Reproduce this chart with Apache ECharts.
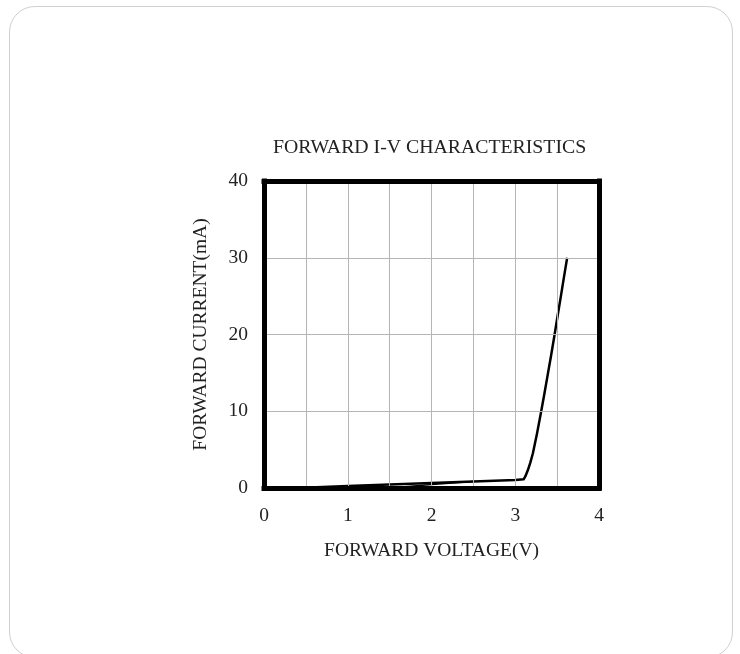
<!DOCTYPE html>
<html>
<head>
<meta charset="utf-8">
<script src="https://cdn.jsdelivr.net/npm/echarts@6/dist/echarts.min.js"></script>
<style>
html,body{margin:0;padding:0;background:#fff;width:740px;height:654px;overflow:hidden;}
#card{position:absolute;left:9px;top:6px;width:724px;height:652px;border:1.5px solid #d0d0d0;border-radius:26px;box-sizing:border-box;}
#chart{position:absolute;left:0;top:0;width:740px;height:654px;}
</style>
</head>
<body>
<div id="card"></div>
<div id="chart"></div>
<script>
// Forward voltage (V) / forward current (mA)
const voltage = [0.40, 1.00, 1.50, 2.00, 2.50, 3.00, 3.10, 3.12, 3.15, 3.18, 3.21, 3.26, 3.31, 3.35, 3.39, 3.43, 3.47, 3.51, 3.545, 3.585, 3.62];
const current = [0.00, 0.25, 0.45, 0.65, 0.85, 1.05, 1.13, 1.50, 2.30, 3.30, 4.50, 7.10, 10.0, 12.4, 14.9, 17.4, 20.0, 22.7, 25.0, 27.7, 30.0];
// faint second trace near the bottom
const voltage2 = [1.50, 2.00, 2.50];
const current2 = [0.00, 0.45, 0.85];
const yTicks = [0, 10, 20, 30, 40];
const xTicks = [0, 1, 2, 3, 4];

const serif = '"Liberation Serif", "DejaVu Serif", serif';
const txt = {fontFamily: serif, fontSize: 19.5, color: '#222'};
const frame = {show: true, onZero: false, lineStyle: {color: '#000', width: 5, cap: 'square'}};
const chart = echarts.init(document.getElementById('chart'));
chart.setOption({
  backgroundColor: 'transparent',
  animation: false,
  title: {
    text: 'FORWARD I-V CHARACTERISTICS',
    left: 268, top: 133,
    textStyle: {fontFamily: serif, fontWeight: 'normal', fontSize: 19.8, color: '#222'}
  },
  grid: {left: 264, right: 141, top: 181, bottom: 166},
  xAxis: [{
    type: 'value', min: xTicks[0], max: xTicks[xTicks.length - 1], interval: 1,
    name: 'FORWARD VOLTAGE(V)', nameLocation: 'middle', nameGap: 53,
    nameTextStyle: txt,
    axisLine: frame, axisTick: {show: false},
    axisLabel: Object.assign({margin: 18}, txt),
    splitLine: {show: true, lineStyle: {color: '#b5b5b5', width: 1}},
    minorTick: {show: false, splitNumber: 2},
    minorSplitLine: {show: true, lineStyle: {color: '#b5b5b5', width: 1}},
    z: 5
  }, {
    type: 'value', position: 'top', min: xTicks[0], max: xTicks[xTicks.length - 1], interval: 1,
    axisLine: frame, axisTick: {show: false}, axisLabel: {show: false}, splitLine: {show: false}, z: 5
  }],
  yAxis: [{
    type: 'value', min: yTicks[0], max: yTicks[yTicks.length - 1], interval: 10,
    name: 'FORWARD CURRENT(mA)', nameLocation: 'middle', nameGap: 53, nameRotate: 90,
    nameTextStyle: txt,
    axisLine: frame, axisTick: {show: false},
    axisLabel: Object.assign({margin: 16}, txt),
    splitLine: {show: true, lineStyle: {color: '#b5b5b5', width: 1}},
    z: 5
  }, {
    type: 'value', position: 'right', min: yTicks[0], max: yTicks[yTicks.length - 1], interval: 10,
    axisLine: frame, axisTick: {show: false}, axisLabel: {show: false}, splitLine: {show: false}, z: 5
  }],
  series: [
    {
      type: 'line', data: voltage.map((v, i) => [v, current[i]]),
      smooth: false, showSymbol: false, lineStyle: {color: '#000', width: 2.5, join: 'round'}, z: 1
    },
    {
      type: 'line', data: voltage2.map((v, i) => [v, current2[i]]),
      smooth: false, showSymbol: false, lineStyle: {color: '#000', width: 1.5}, z: 1
    }
  ]
});
</script>
</body>
</html>
